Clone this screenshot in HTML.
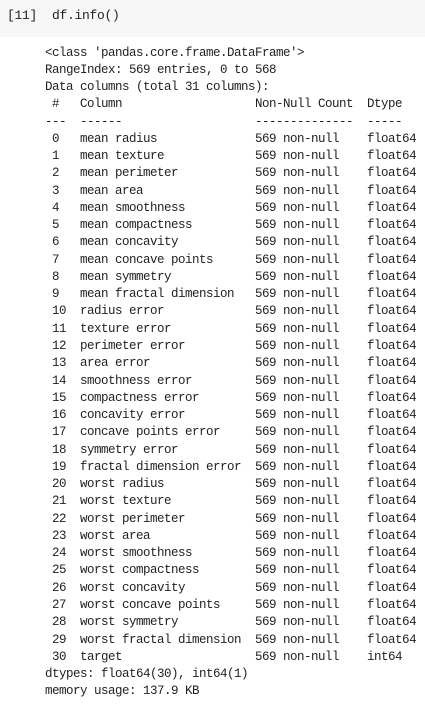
<!DOCTYPE html>
<html><head><meta charset="utf-8"><style>
html,body{margin:0;padding:0;background:#fff;width:425px;height:708px;overflow:hidden}
.in{position:absolute;left:0;top:0;width:425px;height:37px;background:#f7f7f7}
pre{margin:0;font-family:"Liberation Mono","DejaVu Sans Mono",monospace;font-size:12.5px;letter-spacing:-0.5px;color:#222;position:absolute;white-space:pre}
.p{left:7px;top:7px;line-height:17px;font-size:13px;letter-spacing:-0.3px}
.o{left:45px;top:44.5px;line-height:17.27px}
</style></head><body>
<div class="in"></div>
<pre class="p">[11]  df.info()</pre>
<pre class="o">&lt;class 'pandas.core.frame.DataFrame'&gt;
RangeIndex: 569 entries, 0 to 568
Data columns (total 31 columns):
 #   Column                   Non-Null Count  Dtype  
---  ------                   --------------  -----  
 0   mean radius              569 non-null    float64
 1   mean texture             569 non-null    float64
 2   mean perimeter           569 non-null    float64
 3   mean area                569 non-null    float64
 4   mean smoothness          569 non-null    float64
 5   mean compactness         569 non-null    float64
 6   mean concavity           569 non-null    float64
 7   mean concave points      569 non-null    float64
 8   mean symmetry            569 non-null    float64
 9   mean fractal dimension   569 non-null    float64
 10  radius error             569 non-null    float64
 11  texture error            569 non-null    float64
 12  perimeter error          569 non-null    float64
 13  area error               569 non-null    float64
 14  smoothness error         569 non-null    float64
 15  compactness error        569 non-null    float64
 16  concavity error          569 non-null    float64
 17  concave points error     569 non-null    float64
 18  symmetry error           569 non-null    float64
 19  fractal dimension error  569 non-null    float64
 20  worst radius             569 non-null    float64
 21  worst texture            569 non-null    float64
 22  worst perimeter          569 non-null    float64
 23  worst area               569 non-null    float64
 24  worst smoothness         569 non-null    float64
 25  worst compactness        569 non-null    float64
 26  worst concavity          569 non-null    float64
 27  worst concave points     569 non-null    float64
 28  worst symmetry           569 non-null    float64
 29  worst fractal dimension  569 non-null    float64
 30  target                   569 non-null    int64  
dtypes: float64(30), int64(1)
memory usage: 137.9 KB</pre>
</body></html>
